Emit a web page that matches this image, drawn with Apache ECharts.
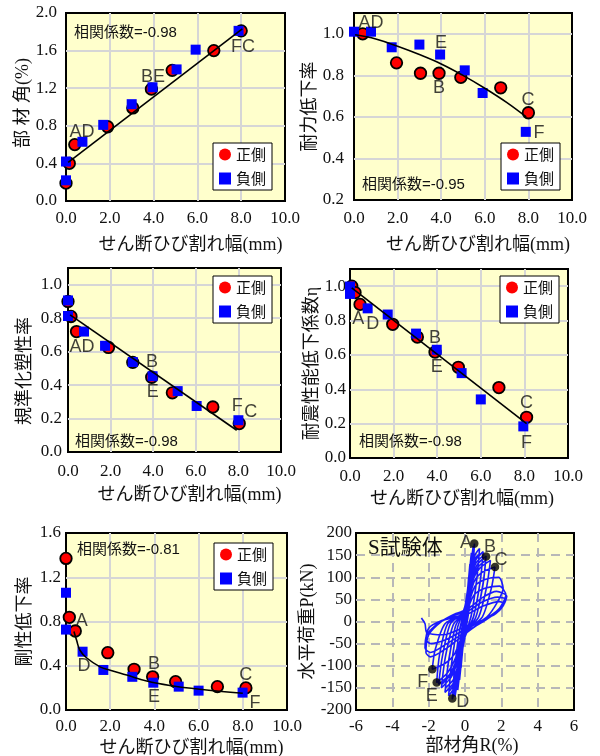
<!DOCTYPE html>
<html>
<head>
<meta charset="utf-8">
<script src="https://cdn.jsdelivr.net/npm/echarts@6/dist/echarts.min.js"></script>
<style>
html,body{margin:0;padding:0;background:#fff;}
#chart{width:600px;height:756px;}
</style>
</head>
<body>
<div id="chart"></div>
<script>
// ---- shear crack width (mm) vs. damage indices: [crack width, value] ----
// 部材角 (%)
const driftPos = [[0,0.19],[0.15,0.40],[0.4,0.60],[1.9,0.79],[3.05,0.99],[3.9,1.19],[4.85,1.39],[6.75,1.60],[8.0,1.81]];
const driftNeg = [[0,0.22],[0,0.42],[0.75,0.63],[1.7,0.81],[3.0,1.03],[3.95,1.21],[5.05,1.40],[5.92,1.61],[7.88,1.81]];
const driftFit = [[0.1,0.41],[8.05,1.83]];
const driftNotes = [['AD',0.73,0.73],['BE',3.97,1.32],['FC',8.08,1.64]];

// 耐力低下率
const strengthPos = [[0.4,1.0],[1.95,0.86],[3.05,0.81],[3.9,0.81],[4.9,0.79],[6.73,0.74],[8.0,0.62]];
const strengthNeg = [[0,1.01],[0.78,1.01],[1.73,0.935],[3.0,0.948],[3.95,0.90],[5.08,0.824],[5.9,0.715],[7.88,0.528]];
const strengthFit = [[0.05,0.995],[1,0.975],[2,0.94],[3,0.90],[4,0.855],[5,0.80],[6,0.738],[7,0.67],[7.9,0.60]];
const strengthNotes = [['AD',0.78,1.05],['E',3.99,0.954],['B',3.9,0.737],['C',7.98,0.68],['F',8.49,0.52]];

// 規準化塑性率
const ductilityPos = [[0,0.90],[0.14,0.81],[0.4,0.72],[1.9,0.625],[3.04,0.536],[3.93,0.447],[4.9,0.354],[6.8,0.269],[8.04,0.17]];
const ductilityNeg = [[0,0.906],[0,0.813],[0.75,0.72],[1.74,0.635],[3.04,0.538],[3.97,0.453],[5.15,0.364],[6.04,0.275],[8.0,0.19]];
const ductilityFit = [[0.1,0.82],[7.92,0.13]];
const ductilityNotes = [['AD',0.66,0.625],['B',3.94,0.536],['E',3.98,0.358],['F',7.95,0.273],['C',8.58,0.237]];

// 耐震性能低下係数η
const etaPos = [[0.08,1.0],[0.23,0.963],[0.46,0.894],[1.96,0.778],[3.09,0.704],[3.9,0.616],[4.97,0.528],[6.83,0.41],[8.1,0.237]];
const etaNeg = [[0,0.998],[0,0.955],[0.81,0.871],[1.73,0.835],[3.03,0.724],[3.98,0.63],[5.12,0.494],[6.0,0.341],[7.95,0.184]];
const etaFit = [[0.08,0.99],[8.1,0.20]];
const etaNotes = [['A',0.38,0.81],['D',1.04,0.78],['B',3.9,0.70],['E',3.98,0.53],['C',8.1,0.32],['F',8.1,0.09]];

// 剛性低下率
const stiffPos = [[0,1.37],[0.15,0.838],[0.42,0.714],[1.89,0.518],[3.08,0.368],[3.92,0.30],[4.96,0.256],[6.85,0.211],[8.14,0.20]];
const stiffNeg = [[0,1.06],[0,0.727],[0.75,0.527],[1.69,0.362],[3.0,0.30],[3.95,0.247],[5.1,0.211],[6.0,0.175],[7.99,0.157]];
const stiffFit = [[0.36,0.71],[0.48,0.63],[0.63,0.54],[0.94,0.47],[1.54,0.39],[2.0,0.36],[2.75,0.316],[3.65,0.262],[4.7,0.222],[6.05,0.188],[8.0,0.152]];
const stiffNotes = [['A',0.71,0.80],['D',0.81,0.40],['B',3.98,0.416],['E',3.98,0.115],['C',8.13,0.316],['F',8.55,0.066]];

// correlation coefficients shown in each panel
const corrTexts = ['相関係数=-0.98','相関係数=-0.95','相関係数=-0.98','相関係数=-0.98','相関係数=-0.81'];

// ---- S specimen hysteresis: member rotation R (%) vs. lateral load P (kN), one array per cycle ----
const hysteresisCycles = [
  [[0,0],[0.06,25],[0.1,45],[0.03,10],[-0.06,-25],[-0.1,-45],[-0.03,-10]],
  [[0.08,40],[0.15,75],[0.06,15],[-0.08,-40],[-0.16,-78],[-0.06,-15]],
  [[0.1,50],[0.2,100],[0.09,20],[-0.1,-50],[-0.22,-105],[-0.09,-20]],
  [[0.12,60],[0.27,130],[0.12,25],[-0.12,-60],[-0.3,-132],[-0.12,-25]],
  [[0.14,70],[0.35,155],[0.2,60],[0.08,5],[-0.15,-70],[-0.4,-155],[-0.25,-60],[-0.1,-5]],
  [[0.16,78],[0.33,140],[0.2,55],[0.08,5],[-0.16,-72],[-0.38,-145],[-0.24,-55],[-0.1,-5]],
  [[0.2,90],[0.45,170],[0.32,90],[0.12,10],[-0.2,-80],[-0.55,-170],[-0.4,-90],[-0.15,-10]],
  [[0.2,88],[0.43,160],[0.3,85],[0.12,8],[-0.2,-78],[-0.52,-162],[-0.38,-85],[-0.15,-8]],
  [[0.25,100],[0.52,176],[0.42,110],[0.2,20],[-0.05,-40],[-0.35,-120],[-0.7,-176],[-0.58,-110],[-0.3,-20],[0.05,40]],
  [[0.28,110],[0.5,165],[0.4,100],[0.18,15],[-0.05,-40],[-0.35,-115],[-0.66,-168],[-0.55,-100],[-0.28,-15],[0.05,38]],
  [[0.3,110],[0.55,150],[0.8,165],[0.66,100],[0.35,15],[0,-35],[-0.35,-110],[-0.6,-150],[-0.9,-168],[-0.75,-100],[-0.42,-15],[0,35]],
  [[0.3,105],[0.55,142],[0.78,152],[0.64,92],[0.34,12],[0,-32],[-0.35,-105],[-0.6,-142],[-0.88,-158],[-0.73,-92],[-0.4,-12],[0,32]],
  [[0.35,105],[0.6,140],[1.0,158],[0.85,95],[0.48,12],[0,-35],[-0.4,-105],[-0.65,-140],[-1.1,-160],[-0.92,-95],[-0.52,-10],[0,30]],
  [[0.35,100],[0.6,132],[0.98,148],[0.83,88],[0.46,10],[0,-32],[-0.4,-100],[-0.65,-132],[-1.08,-150],[-0.9,-88],[-0.5,-8],[0,28]],
  [[0.4,100],[0.7,130],[1.16,148],[1.0,88],[0.6,10],[0,-30],[-0.45,-95],[-0.75,-125],[-1.3,-150],[-1.1,-85],[-0.65,-8],[0,26]],
  [[0.4,95],[0.7,122],[1.14,138],[0.98,80],[0.58,8],[0,-28],[-0.45,-90],[-0.75,-118],[-1.28,-142],[-1.08,-80],[-0.63,-6],[0,24]],
  [[0.45,95],[0.8,120],[1.4,138],[1.2,80],[0.75,10],[0,-28],[-0.5,-90],[-0.85,-120],[-1.45,-142],[-1.25,-80],[-0.8,-5],[0,24]],
  [[0.5,90],[0.9,110],[1.65,123],[1.45,75],[0.95,10],[0,-25],[-0.55,-85],[-0.95,-115],[-1.56,-138],[-1.4,-75],[-0.95,-5],[0,22]],
  [[0.55,80],[1.1,95],[1.85,100],[2.1,75],[1.8,45],[1.2,10],[0,-22],[-0.6,-75],[-1.1,-95],[-1.8,-108],[-1.65,-65],[-1.1,-5],[0,20]],
  [[0.5,60],[1.1,75],[1.9,80],[2.25,60],[1.9,30],[1.3,10],[0.1,-25],[-1.0,-60],[-1.9,-80],[-2.15,-70],[-2.0,-30],[-1.3,0],[-0.5,18]],
  [[0.1,27],[1.0,55],[1.74,68],[2.3,57],[2.0,30],[1.2,5],[0.1,-22],[-1.0,-50],[-1.9,-70],[-2.2,-60],[-2.1,-30],[-1.5,-5],[-0.5,15]],
  [[0.1,22],[1.0,45],[1.8,55],[2.25,50],[1.9,25],[1.0,2],[0,-18],[-1.0,-40],[-1.9,-50],[-2.15,-40],[-2.0,-15],[-1.4,0],[-0.4,12]],
  [[0.2,18],[1.0,35],[1.9,45],[2.15,40],[1.7,18],[0.8,0],[0,-12],[-1.2,-30],[-2.1,-25],[-2.2,-5],[-2.4,8],[-2.3,2]]
];
// marked states on the envelope, and where their letters sit
const keyPoints = [[0.51,176],[1.16,147],[1.65,123],[-0.7,-174],[-1.56,-138],[-1.8,-108]];
const keyNotes = [['A',0.06,178],['B',1.38,169],['C',1.98,138],['D',-0.13,-183],['E',-1.83,-168],['F',-2.33,-136]];

// ---- styling ----
const SERIF = '"Liberation Serif", "Times New Roman", serif';
const MIXED = '"Liberation Serif", "Noto Sans CJK JP", serif';
const SANS = '"Liberation Sans", Arial, "Noto Sans CJK JP", sans-serif';
const CJK = '"Noto Sans CJK JP", sans-serif';
const PLOT_BG = '#ffffcc';
const GRID_LINE = '#d6d6d6';

const grids = [
  {left:66, top:13, width:219, height:188},
  {left:354, top:13, width:218, height:187},
  {left:68, top:268, width:213, height:184},
  {left:350, top:269, width:218, height:189},
  {left:66, top:533, width:221, height:177},
  {left:356, top:533, width:218, height:177}
].map(g => Object.assign({show:true, backgroundColor:PLOT_BG, borderColor:'#000', borderWidth:2, outerBoundsMode:'none', containLabel:false}, g));

function crackAxis(gi, nameGap, labelMargin, shift) {
  return {
    type:'value', gridIndex:gi, min:0, max:10, interval:2,
    axisLine:{show:false}, axisTick:{show:false},
    splitLine:{show:true, showMinLine:false, showMaxLine:false, lineStyle:{color:GRID_LINE, width:2}},
    axisLabel:{formatter:v => v.toFixed(1), fontFamily:SERIF, fontSize:17, color:'#111', margin:labelMargin},
    name:'せん断ひび割れ幅(mm)', nameLocation:'middle', nameGap:nameGap,
    nameTextStyle:{fontFamily:MIXED, fontSize:18, color:'#111', padding:[0,0,0,shift]}
  };
}
function indexAxis(gi, name, min, max, interval, nameGap, labelMargin, padding, decimals) {
  return {
    type:'value', gridIndex:gi, min:min, max:max, interval:interval,
    axisLine:{show:false}, axisTick:{show:false},
    splitLine:{show:true, showMinLine:false, showMaxLine:false, lineStyle:{color:GRID_LINE, width:2}},
    axisLabel:{
      // only label the regular steps, not an off-step axis end
      formatter:v => {
        const k = (v - min) / interval;
        return Math.abs(k - Math.round(k)) > 1e-6 ? '' : v.toFixed(decimals);
      },
      fontFamily:SERIF, fontSize:17, color:'#111', margin:labelMargin
    },
    name:name, nameLocation:'middle', nameGap:nameGap,
    nameTextStyle:{fontFamily:MIXED, fontSize:18, color:'#111', padding:padding}
  };
}

const xAxes = [
  crackAxis(0, 35, 9, 30),
  crackAxis(1, 36, 10, 30),
  crackAxis(2, 34, 11, 30),
  crackAxis(3, 32, 10, 6),
  crackAxis(4, 29, 8, 30),
  {
    type:'value', gridIndex:5, min:-6, max:6, interval:2,
    axisLine:{show:false}, axisTick:{show:false},
    splitLine:{show:true, showMinLine:false, showMaxLine:false, lineStyle:{color:'#b8b8b8', width:2, type:[9,6]}},
    axisLabel:{fontFamily:SERIF, fontSize:17, color:'#111', margin:8},
    name:'部材角R(%)', nameLocation:'middle', nameGap:27,
    nameTextStyle:{fontFamily:MIXED, fontSize:18, color:'#111', padding:[0,0,0,14]}
  }
];
const yAxes = [
  indexAxis(0, '部 材 角(%)', 0, 2.0, 0.4, 32, 9, [0,0,0,8], 1),
  indexAxis(1, '耐力低下率', 0.2, 1.1, 0.2, 32, 10, [0,0,0,0], 1),
  indexAxis(2, '規準化塑性率', 0, 1.1, 0.2, 34, 6, [0,22,0,0], 1),
  indexAxis(3, '耐震性能低下係数η', 0, 1.1, 0.2, 29, 4, [0,0,0,0], 1),
  indexAxis(4, '剛性低下率', 0, 1.6, 0.4, 32, 5, [0,0,0,0], 1),
  {
    type:'value', gridIndex:5, min:-200, max:200, interval:50,
    axisLine:{show:false}, axisTick:{show:false},
    splitLine:{show:true, showMinLine:false, showMaxLine:false, lineStyle:{color:'#b8b8b8', width:2, type:[9,6]}},
    axisLabel:{fontFamily:SERIF, fontSize:17, color:'#111', margin:4},
    name:'水平荷重P(kN)', nameLocation:'middle', nameGap:35,
    nameTextStyle:{fontFamily:MIXED, fontSize:18, color:'#111', padding:[0,0,0,0]}
  }
];

const series = [];
function notesSeries(gi, notes) {
  return {
    type:'scatter', xAxisIndex:gi, yAxisIndex:gi, symbolSize:0, silent:true, z:6,
    itemStyle:{color:'rgba(0,0,0,0)'},
    data:notes.map(n => ({name:n[0], value:[n[1], n[2]]})),
    label:{show:true, position:'inside', formatter:'{b}', fontFamily:SANS, fontSize:18, color:'#111'}
  };
}
function panel(gi, pos, neg, fit, notes, smooth) {
  series.push({
    name:'正側', type:'scatter', xAxisIndex:gi, yAxisIndex:gi, data:pos, z:2,
    symbol:'circle', symbolSize:11.5,
    itemStyle:{color:'#ff0000', borderColor:'#000', borderWidth:1.8, opacity:1}
  });
  series.push({
    name:'負側', type:'scatter', xAxisIndex:gi, yAxisIndex:gi, data:neg, z:3,
    symbol:'rect', symbolSize:10,
    itemStyle:{color:'#0000ff', opacity:1}
  });
  series.push({
    name:'近似線', type:'line', xAxisIndex:gi, yAxisIndex:gi, data:fit, z:4,
    symbol:'none', showSymbol:false, smooth:smooth, silent:true,
    lineStyle:{color:'#000', width:1.6}
  });
  series.push(notesSeries(gi, notes));
}
panel(0, driftPos, driftNeg, driftFit, driftNotes, false);
panel(1, strengthPos, strengthNeg, strengthFit, strengthNotes, 0.4);
panel(2, ductilityPos, ductilityNeg, ductilityFit, ductilityNotes, false);
panel(3, etaPos, etaNeg, etaFit, etaNotes, false);
panel(4, stiffPos, stiffNeg, stiffFit, stiffNotes, 0.4);

// hysteresis loops drawn as one continuous load path
series.push({
  name:'S試験体', type:'line', xAxisIndex:5, yAxisIndex:5,
  data:[].concat(...hysteresisCycles), z:2,
  symbol:'none', showSymbol:false, smooth:0.25, silent:true,
  lineStyle:{color:'#1a1aff', width:1.6}
});
series.push({
  name:'特性点', type:'scatter', xAxisIndex:5, yAxisIndex:5, data:keyPoints, z:3,
  symbol:'circle', symbolSize:8.5, itemStyle:{color:'#000'}
});
series.push(notesSeries(5, keyNotes));

// one legend per scatter panel
const legendSpots = [[213,143],[501,143],[213,276],[500,276],[214,543]];
const legends = legendSpots.map(p => ({
  left:p[0], top:p[1], orient:'vertical',
  backgroundColor:'#fff', borderColor:'#000', borderWidth:1,
  padding:[4,6], itemGap:9, itemWidth:12, itemHeight:12,
  textStyle:{fontFamily:CJK, fontSize:15, color:'#111'},
  selectedMode:false,
  data:[
    {name:'正側', icon:'circle', itemStyle:{color:'#ff0000', borderWidth:0}},
    {name:'負側', icon:'rect', itemStyle:{color:'#0000ff', borderWidth:0}}
  ]
}));

// correlation notes and specimen title
const corrSpots = [[74,25],[362,177],[75,434],[359,434],[77,542]];
const graphics = corrSpots.map((p, i) => ({
  type:'text', left:p[0], top:p[1], z:10, silent:true,
  style:{text:corrTexts[i], fontFamily:SANS, fontSize:15, fill:'#111'}
}));
graphics.push({
  type:'text', left:368, top:538, z:10, silent:true,
  style:{text:'S試験体', fontFamily:MIXED, fontSize:21, fill:'#111'}
});

const chart = echarts.init(document.getElementById('chart'), null, {renderer:'canvas'});
chart.setOption({
  animation:false,
  backgroundColor:'#fff',
  grid:grids,
  xAxis:xAxes,
  yAxis:yAxes,
  legend:legends,
  series:series,
  graphic:graphics
});
</script>
</body>
</html>
